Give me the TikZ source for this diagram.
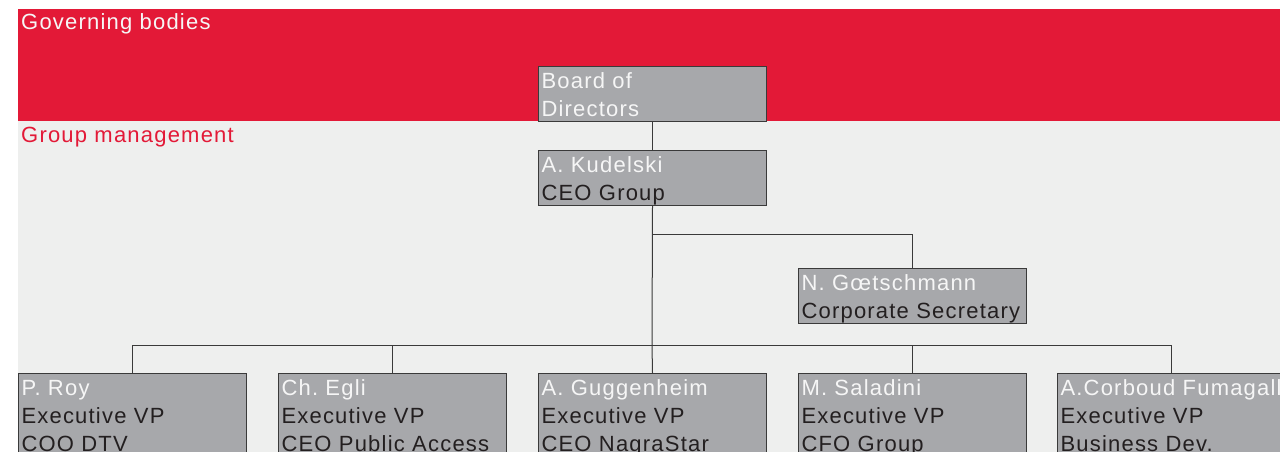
\documentclass[tikz,border=0pt]{standalone}
\usepackage{fontspec}
\setmainfont[LetterSpace=5.5]{Liberation Sans}
\definecolor{govred}{HTML}{E31937}
\definecolor{mgmtgrey}{HTML}{EEEFEE}
\definecolor{boxgrey}{HTML}{A7A8AB}
\definecolor{boxline}{HTML}{3A3A3A}
\definecolor{nametext}{HTML}{F6F6F6}
\definecolor{roletext}{HTML}{231F20}
\begin{document}
\begin{tikzpicture}[x=1pt, y=-1pt,
  box/.style={draw=boxline, line width=1pt, fill=boxgrey, anchor=north west, align=left,
    text width=222pt, inner xsep=3pt, inner ysep=0pt, text height=22pt, text depth=33pt,
    text=roletext, font=\fontsize{22}{28}\selectfont},
  evpbox/.style={box, text depth=61pt},
  link/.style={draw=boxline, line width=1pt},
  bandlabel/.style={anchor=base west, inner sep=0pt, font=\fontsize{22}{28}\selectfont}
]
\useasboundingbox (0,0) rectangle (1280,452);
\clip (0,0) rectangle (1280,452);
\fill[white] (0,0) rectangle (1280,452);
\fill[govred] (18,9) rectangle (1280,121);
\fill[mgmtgrey] (18,121) rectangle (1280,460);
\node[bandlabel, text=nametext] (govlabel) at (21,30) {Governing bodies};
\node[bandlabel, text=govred] (mgmtlabel) at (21,142) {Group management};

\node[box] (board) at (538,66) {{\color{nametext}Board of}\\{\color{nametext}Directors}};
\node[box] (ceo) at (538,150) {{\color{nametext}A. Kudelski}\\CEO Group};
\node[box] (secretary) at (798,268) {{\color{nametext}N. Gœtschmann}\\\mbox{Corporate Secretary}};
\node[evpbox] (roy) at (18,373) {{\color{nametext}P. Roy}\\Executive VP\\COO DTV};
\node[evpbox] (egli) at (278,373) {{\color{nametext}Ch.\ Egli}\\Executive VP\\CEO Public Access};
\node[evpbox] (guggenheim) at (538,373) {{\color{nametext}A. Guggenheim}\\Executive VP\\CEO NagraStar};
\node[evpbox] (saladini) at (798,373) {{\color{nametext}M. Saladini}\\Executive VP\\CFO Group};
\node[evpbox] (corboud) at (1057,373) {{\color{nametext}\mbox{A.Corboud Fumagalli}}\\Executive VP\\Business Dev.};

\coordinate (split) at (652,234);
\coordinate (bus) at (652,345);
\draw[link] (board.south) -- (ceo.north);
\draw[link] (ceo.south) -- (bus);
\draw[link] (split) -| (secretary.north);
\draw[link] (bus) -| (roy.north);
\draw[link] (bus) -| (egli.north);
\draw[link] (bus) -- (guggenheim.north);
\draw[link] (bus) -| (saladini.north);
\draw[link] (bus) -| (corboud.north);
\end{tikzpicture}
\end{document}
